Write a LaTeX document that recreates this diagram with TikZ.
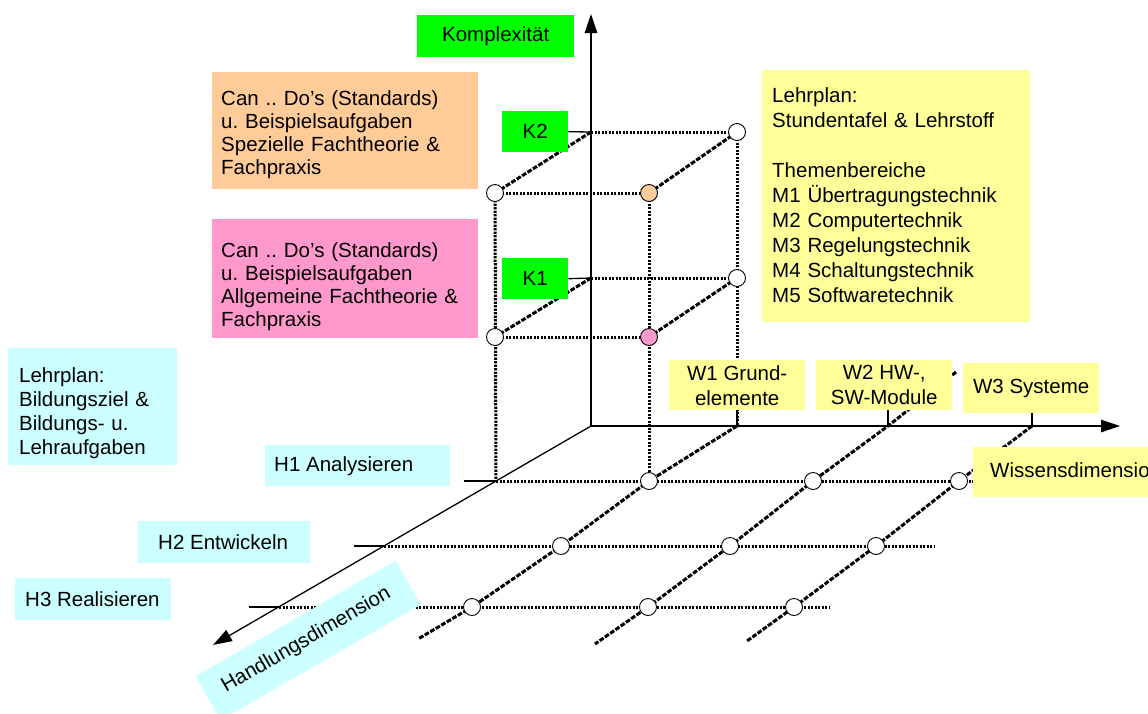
\documentclass[tikz,border=0pt]{standalone}
\usepackage{fontspec}
\setmainfont{Liberation Sans}
\usetikzlibrary{arrows.meta,backgrounds}
\definecolor{kgreen}{HTML}{00FF00}
\definecolor{korange}{HTML}{FFCC99}
\definecolor{kpink}{HTML}{FF99CC}
\definecolor{kyellow}{HTML}{FFFF99}
\definecolor{kcyan}{HTML}{CCFFFF}
\frenchspacing
\begin{document}
\begin{tikzpicture}[x=1pt,y=-1pt,
  every node/.style={font=\fontsize{20.5}{25}\selectfont},
  panel/.style={inner sep=0pt, anchor=north west},
  txt/.style={inner sep=0pt, align=left},
  axisline/.style={line width=1.3pt, -{Triangle[length=19pt,width=12.5pt]}},
  stub/.style={line width=1.3pt},
  dotline/.style={line width=3pt, dash pattern=on 2.4pt off 1.1pt},
  dashline/.style={line width=3pt, dash pattern=on 4.8pt off 1.6pt},
  knot/.style={circle, draw, line width=0.9pt, fill=white, minimum size=17pt, inner sep=0pt},
]
\useasboundingbox (0,0) rectangle (1148,713);
\clip (0,0) rectangle (1148,713);

% ---------- coordinates of the axes ----------
\coordinate (O) at (591,426);
\coordinate (ztip) at (591,14);
\coordinate (xtip) at (1120,426);
\coordinate (htip) at (213,645);
\coordinate (k2) at (591,132);
\coordinate (k1) at (591,278);
\coordinate (w1) at (737,426);
\coordinate (w2) at (888,426);
\coordinate (w3) at (1032,426);
\coordinate (w2x) at (956,372);
\coordinate (h1s) at (464,481);
\coordinate (h1a) at (496,481);
\coordinate (h1e) at (1000,481);
\coordinate (h2s) at (354,546);
\coordinate (h2a) at (384,546);
\coordinate (h2e) at (934,546);
\coordinate (h3s) at (249,607);
\coordinate (h3a) at (279,607);
\coordinate (h3e) at (829,607);
\coordinate (e1) at (418,639);
\coordinate (e2) at (595,644);
\coordinate (e3) at (747,641);

% ---------- labels and panels ----------
\node[panel, fill=kgreen, minimum width=157pt, minimum height=42pt] (Kx) at (417,15) {Komplexität};
\node[panel, fill=kgreen, minimum width=66pt, minimum height=41pt] (K2) at (502,111) {K2};
\node[panel, fill=kgreen, minimum width=66pt, minimum height=41pt] (K1) at (502,258) {K1};

\node[panel, fill=korange, minimum width=266pt, minimum height=117pt] (spez) at (212,72) {};
\node[txt, anchor=base west, text width=262pt, font=\fontsize{20.5}{23.3}\selectfont] (speztext) at (221,105)
  {Can .. Do’s (Standards)\\u. Beispielsaufgaben\\Spezielle Fachtheorie \&\\Fachpraxis};

\node[panel, fill=kpink, minimum width=266pt, minimum height=119pt] (allg) at (212,219) {};
\node[txt, anchor=base west, text width=262pt, font=\fontsize{20.5}{23.3}\selectfont] (allgtext) at (221,257)
  {Can .. Do’s (Standards)\\u. Beispielsaufgaben\\Allgemeine Fachtheorie \&\\Fachpraxis};

\node[panel, fill=kyellow, minimum width=268pt, minimum height=252pt] (plan) at (762,70) {};
\node[txt, anchor=base west, text width=258pt] (plantext) at (772,102)
  {Lehrplan:\\Stundentafel \& Lehrstoff\\[25pt]Themenbereiche\\M1 Übertragungstechnik\\M2 Computertechnik\\M3 Regelungstechnik\\M4 Schaltungstechnik\\M5 Softwaretechnik};

\node[panel, fill=kcyan, minimum width=169pt, minimum height=117pt] (ziel) at (8,348) {};
\node[txt, anchor=base west, text width=158pt, font=\fontsize{20.5}{24.3}\selectfont] (zieltext) at (19,382)
  {Lehrplan:\\Bildungsziel \&\\Bildungs- u.\\Lehraufgaben};

\node[panel, fill=kcyan, minimum width=185pt, minimum height=41pt] (H1) at (265,445) {};
\node[txt, anchor=west] (H1text) at (274,466) {H1 Analysieren};
\node[panel, fill=kcyan, minimum width=172pt, minimum height=42pt] (H2) at (138,521) {};
\node[txt, anchor=west] (H2text) at (158,542) {H2 Entwickeln};
\node[panel, fill=kcyan, minimum width=156pt, minimum height=42pt] (H3) at (15,578) {};
\node[txt, anchor=west] (H3text) at (25,599) {H3 Realisieren};

\node[panel, fill=kyellow, minimum width=136pt, minimum height=50pt, align=center] (W1) at (669,360) {W1 Grund-\\elemente};
\node[panel, fill=kyellow, minimum width=136pt, minimum height=50pt, align=center] (W2) at (816,360) {W2 HW-,\\SW-Module};
\node[panel, fill=kyellow, minimum width=136pt, minimum height=50pt] (W3) at (963,363) {W3 Systeme};

\node[panel, fill=kyellow, minimum width=200pt, minimum height=50pt] (wiss) at (973,447) {};
\node[txt, anchor=west] (wisstext) at (990,470) {Wissensdimension};

\node[fill=kcyan, inner sep=0pt, rotate=30, minimum width=231pt, minimum height=50.6pt] (hand) at (308.2,640.5) {};
\node[inner sep=0pt, rotate=30, anchor=base] (handtext) at (309,645) {Handlungsdimension};

% ---------- points of the cube and the grid ----------
\node[knot] (t2r) at (737,132) {};
\node[knot] (t2l) at (495,193) {};
\node[knot, fill=korange] (t2m) at (649,193) {};
\node[knot] (t1r) at (737,278) {};
\node[knot] (t1l) at (495,337) {};
\node[knot, fill=kpink] (t1m) at (649,337) {};
\node[knot] (g11) at (649,481) {};
\node[knot] (g12) at (813,481) {};
\node[knot] (g13) at (959,481) {};
\node[knot] (g21) at (561,546) {};
\node[knot] (g22) at (730,546) {};
\node[knot] (g23) at (876,546) {};
\node[knot] (g31) at (472,607) {};
\node[knot] (g32) at (648,607) {};
\node[knot] (g33) at (794,607) {};

\begin{pgfonlayer}{background}
  % axes
  \draw[axisline] (O) -- (ztip);
  \draw[axisline] (O) -- (xtip);
  \draw[axisline] (O) -- (htip);
  % level stubs
  \draw[stub] (K2.east) -- (k2);
  \draw[stub] (K1.east) -- (k1);
  \draw[stub] (w1|-W1.south) -- (w1);
  \draw[stub] (w2|-W2.south) -- (w2);
  \draw[stub] (w3|-W3.south) -- (w3);
  \draw[stub] (h1s) -- (h1a);
  \draw[stub] (h2s) -- (h2a);
  \draw[stub] (h3s) -- (h3a);
  % cube
  \draw[dotline] (k2) -- (t2r.center);
  \draw[dotline] (k1) -- (t1r.center);
  \draw[dashline] (k2) -- (t2l.center);
  \draw[dashline] (t2r.center) -- (t2m.center);
  \draw[dashline] (k1) -- (t1l.center);
  \draw[dashline] (t1r.center) -- (t1m.center);
  \draw[dotline] (t2l.center) -- (t2m.center);
  \draw[dotline] (t1l.center) -- (t1m.center);
  \draw[dotline] (t2l.center) -- (h1a);
  \draw[dotline] (t2m.center) -- (g11.center);
  \draw[dotline] (t2r.center) -- (w1);
  % rows of the action dimension
  \draw[dotline] (h1a) -- (h1e);
  \draw[dotline] (h2a) -- (h2e);
  \draw[dotline] (h3a) -- (h3e);
  % lines of the knowledge dimension
  \draw[dashline] (w1) -- (g11.center) -- (g21.center) -- (g31.center) -- (e1);
  \draw[dashline] (w2x) -- (w2) -- (g12.center) -- (g22.center) -- (g32.center) -- (e2);
  \draw[dashline] (w3) -- (g13.center) -- (g23.center) -- (g33.center) -- (e3);
\end{pgfonlayer}
\end{tikzpicture}
\end{document}
